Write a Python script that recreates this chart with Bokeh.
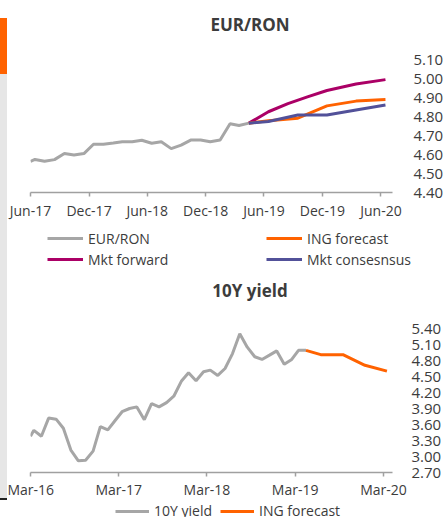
import pandas as pd
from bokeh.plotting import figure
from bokeh.models import (ColumnDataSource, FixedTicker, DatetimeTickFormatter,
                          Legend, LegendItem, Range1d, NumeralTickFormatter, Div, Title)
from bokeh.layouts import column, row
from bokeh.embed import file_html
from bokeh.resources import INLINE

# ---------------- EUR/RON data ----------------
eurron_dates = ["2017-06-01"] + [d.strftime("%Y-%m-15") for d in pd.date_range("2017-06-01", "2019-04-01", freq="MS")]
eurron_vals = [4.564, 4.574, 4.564, 4.573, 4.605, 4.597, 4.605, 4.654, 4.654, 4.660,
               4.667, 4.667, 4.675, 4.659, 4.667, 4.631, 4.649, 4.676, 4.676, 4.667,
               4.676, 4.762, 4.753, 4.765]

ing_fx_dates = ["2019-04-15", "2019-06-15", "2019-09-15", "2019-12-15", "2020-03-15", "2020-06-15"]
ing_fx_vals = [4.765, 4.778, 4.791, 4.856, 4.881, 4.889]

fwd_dates = ["2019-04-15", "2019-06-15", "2019-08-15", "2019-10-15", "2019-12-15", "2020-03-15", "2020-06-15"]
fwd_vals = [4.765, 4.825, 4.868, 4.903, 4.937, 4.971, 4.994]

cons_dates = ["2019-04-15", "2019-06-15", "2019-09-15", "2019-12-15", "2020-03-15", "2020-06-15"]
cons_vals = [4.765, 4.774, 4.808, 4.808, 4.834, 4.860]

fx_ticks = ["2017-06-01", "2017-12-01", "2018-06-01", "2018-12-01", "2019-06-01", "2019-12-01", "2020-06-01"]
fx_yticks = [4.40, 4.50, 4.60, 4.70, 4.80, 4.90, 5.00, 5.10]

# ---------------- 10Y yield data ----------------
y10_dates = ["2016-03-01"] + [d.strftime("%Y-%m-15") for d in pd.date_range("2016-03-01", "2019-04-01", freq="MS")]
y10_vals = [3.38, 3.49, 3.38, 3.72, 3.70, 3.53, 3.12, 2.92, 2.93, 3.10,
            3.56, 3.50, 3.68, 3.84, 3.90, 3.93, 3.69, 3.99, 3.93, 4.01,
            4.13, 4.41, 4.57, 4.42, 4.59, 4.62, 4.52, 4.65, 4.93, 5.30,
            5.05, 4.87, 4.82, 4.90, 4.98, 4.73, 4.82, 4.99, 4.99]

ing_y_dates = ["2019-04-15", "2019-06-15", "2019-09-15", "2019-12-15", "2020-03-15"]
ing_y_vals = [4.99, 4.91, 4.91, 4.71, 4.60]

y_ticks = ["2016-03-01", "2017-03-01", "2018-03-01", "2019-03-01", "2020-03-01"]
y_yticks = [2.70, 3.00, 3.30, 3.60, 3.90, 4.20, 4.50, 4.80, 5.10, 5.40]

GREY = "#A6A6A6"
ORANGE = "#FF6200"
PURPLE = "#AB0066"
NAVY = "#525199"
TEXT = "#3C3C3C"
FONT = "Open Sans"
W = 439


def ms(s):
    return pd.Timestamp(s).value / 1e6


def src(dates, vals):
    return ColumnDataSource(dict(x=pd.to_datetime(dates), y=vals))


def style(p, xticks, yticks, label_standoff, x_standoff):
    p.xgrid.visible = False
    p.ygrid.visible = False
    p.outline_line_color = None
    xa = p.xaxis[0]
    xa.ticker = FixedTicker(ticks=[ms(t) for t in xticks])
    xa.formatter = DatetimeTickFormatter(days="%b-%y", months="%b-%y", years="%b-%y")
    xa.axis_line_color = "#A0A0A0"
    xa.axis_line_width = 1.5
    xa.major_tick_line_color = "#A0A0A0"
    xa.major_tick_line_width = 1.5
    xa.major_tick_in = 0
    xa.major_tick_out = 4
    xa.minor_tick_line_color = None
    xa.major_label_text_font = FONT
    xa.major_label_text_font_size = "14px"
    xa.major_label_text_color = TEXT
    xa.major_label_standoff = x_standoff
    ya = p.yaxis[0]
    ya.ticker = FixedTicker(ticks=yticks)
    ya.formatter = NumeralTickFormatter(format="0.00")
    ya.axis_line_color = None
    ya.major_tick_line_color = None
    ya.minor_tick_line_color = None
    ya.major_label_text_font = FONT
    ya.major_label_text_font_size = "15px"
    ya.major_label_text_color = TEXT
    ya.major_label_standoff = label_standoff


def blank_fig(frame_h, bottom):
    f = figure(frame_width=W, frame_height=frame_h, output_backend="svg", toolbar_location=None,
               x_axis_location=None, y_axis_location=None,
               min_border_left=0, min_border_right=0, min_border_top=0, min_border_bottom=bottom,
               x_range=Range1d(0, 1), y_range=Range1d(0, 1))
    f.xgrid.visible = False
    f.ygrid.visible = False
    f.outline_line_color = None
    return f


def add_title(f, text, standoff):
    t = Title(text=text, align="center", vertical_align="top", standoff=standoff,
              text_font=FONT, text_font_size="17px", text_font_style="bold", text_color=TEXT)
    f.add_layout(t, "below")


def add_legends(f, entries, locs, h=20, spacing=1, orientation="vertical", gw=36):
    for group, loc in zip(entries, locs):
        items = []
        for label, color in group:
            r = f.line(x=[float("nan")], y=[float("nan")], line_color=color, line_width=3)
            items.append(LegendItem(label=label, renderers=[r]))
        lg = Legend(items=items, location=loc, orientation=orientation)
        lg.background_fill_alpha = 0
        lg.border_line_color = None
        lg.padding = 0
        lg.margin = 0
        lg.spacing = spacing
        lg.glyph_width = gw
        lg.glyph_height = h
        lg.label_height = h
        lg.label_standoff = 5
        lg.label_text_font = FONT
        lg.label_text_font_size = "14px"
        lg.label_text_color = TEXT
        f.add_layout(lg, "center")


# ---------------- Top title ----------------
t1 = blank_fig(1, 46)
add_title(t1, "EUR/RON", 23)

# ---------------- Top chart ----------------
p1 = figure(width=W, height=173, x_axis_type="datetime", y_axis_location="right",
            output_backend="svg", toolbar_location=None,
            min_border_left=18, min_border_right=46, min_border_top=10, min_border_bottom=28,
            x_range=Range1d(pd.Timestamp("2017-06-01"), pd.Timestamp("2020-07-07")),
            y_range=Range1d(4.40, 5.10))
style(p1, fx_ticks, fx_yticks, 15, 4)

p1.line("x", "y", source=src(eurron_dates, eurron_vals), line_color=GREY, line_width=3)
p1.line("x", "y", source=src(fwd_dates, fwd_vals), line_color=PURPLE, line_width=3)
p1.line("x", "y", source=src(ing_fx_dates, ing_fx_vals), line_color=ORANGE, line_width=3)
p1.line("x", "y", source=src(cons_dates, cons_vals), line_color=NAVY, line_width=3)

# top legend + bottom title
leg1 = blank_fig(50, 35)
add_legends(leg1, [[("EUR/RON", GREY), ("Mkt forward", PURPLE)],
                   [("ING forecast", ORANGE), ("Mkt consesnsus", NAVY)]],
            [(40, 3), (259, 3)])
add_title(leg1, "10Y yield", 12)

# ---------------- Bottom chart ----------------
p2 = figure(width=W, height=192, x_axis_type="datetime", y_axis_location="right",
            output_backend="svg", toolbar_location=None,
            min_border_left=23, min_border_right=49, min_border_top=19, min_border_bottom=26,
            x_range=Range1d(pd.Timestamp("2016-03-01"), pd.Timestamp("2020-04-07")),
            y_range=Range1d(2.70, 5.40))
style(p2, y_ticks, y_yticks, 13, 3)

p2.line("x", "y", source=src(y10_dates, y10_vals), line_color=GREY, line_width=3)
p2.line("x", "y", source=src(ing_y_dates, ing_y_vals), line_color=ORANGE, line_width=3)

leg2 = blank_fig(20, 0)
add_legends(leg2, [[("10Y yield", GREY), ("ING forecast", ORANGE)]], [(108, 1)],
            h=18, spacing=8, orientation="horizontal", gw=34)

strip = Div(text="", width=7, height=517, margin=0,
            styles={"background": "linear-gradient(to bottom, #FFFFFF 0px, #FFFFFF 18px, "
                                  "#FF6200 18px, #FF6200 74px, #E6E6E6 74px, #E6E6E6 498px, "
                                  "#222222 498px, #222222 500px, #FFFFFF 500px)"})

layout = row(strip, column(t1, p1, leg1, p2, leg2, spacing=0), spacing=0)
open("out.html", "w").write(file_html(layout, INLINE))
